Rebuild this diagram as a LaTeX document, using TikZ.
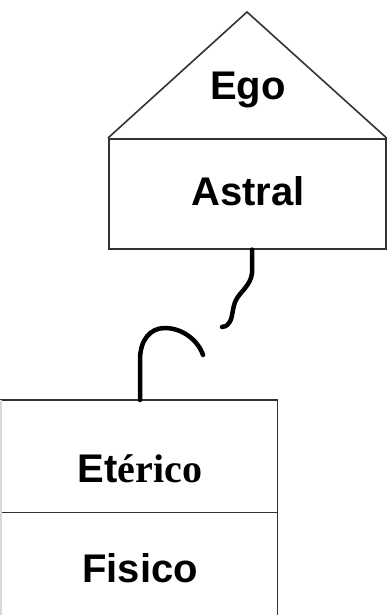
\documentclass[tikz,border=0pt]{standalone}
\usepackage{fontspec}
\setmainfont{Liberation Sans}
\newfontfamily\serifb{Liberation Serif}
\begin{document}
\begin{tikzpicture}[x=1pt,y=-1pt,
  outline/.style={draw=black!80,line width=1.6pt},
  lbl/.style={font=\fontsize{40}{40}\selectfont\bfseries,anchor=base,inner sep=0pt},
  wire/.style={line width=4.5pt,line cap=round,line join=round}]
\useasboundingbox (0,0) rectangle (387,615);
\fill[white] (0,0) rectangle (387,615);
% top: Ego roof and Astral box
\coordinate (apex) at (247,12);
\node[outline,minimum width=277pt,minimum height=110pt,anchor=north west,inner sep=0pt] (astral) at (108,138) {};
\draw[outline] (astral.north west) -- (apex) -- (astral.north east);
\node[lbl] (ego) at (248,100) {Ego};
\node[lbl] (astraltext) at (248,205) {Astral};
% bottom: Eterico and Fisico boxes
\node[minimum width=277pt,minimum height=112pt,anchor=north west,inner sep=0pt] (eterico) at (0,400) {};
\node[minimum width=277pt,minimum height=103pt,anchor=north west,inner sep=0pt] (fisico) at (0,512) {};
\draw[outline] (eterico.north west) -- (eterico.north east) -- (fisico.south east);
\draw[outline] (eterico.south west) -- (eterico.south east);
\draw[black!15,line width=1.5pt] ([xshift=0.75pt]eterico.north west) -- ([xshift=0.75pt]fisico.south west);
\node[lbl] (etericotext) at (140,482) {Et{\serifb érico}};
\node[lbl] (fisicotext) at (140,582) {Fisico};
% broken cord
\coordinate (cordA) at (222,327);
\coordinate (cordB) at (203,355);
\draw[wire] (astral.south -| 252,0) -- (252,273) .. controls (251,285) and (240,292) .. (236,300)
  .. controls (232,308) and (233,318) .. (229,323) .. controls (227,326) and (224,327) .. (cordA);
\draw[wire] (eterico.north -| 140,0) -- (140,360) .. controls (140,340) and (150,328) .. (165,328)
  .. controls (182,328) and (198,340) .. (cordB);
\end{tikzpicture}
\end{document}
